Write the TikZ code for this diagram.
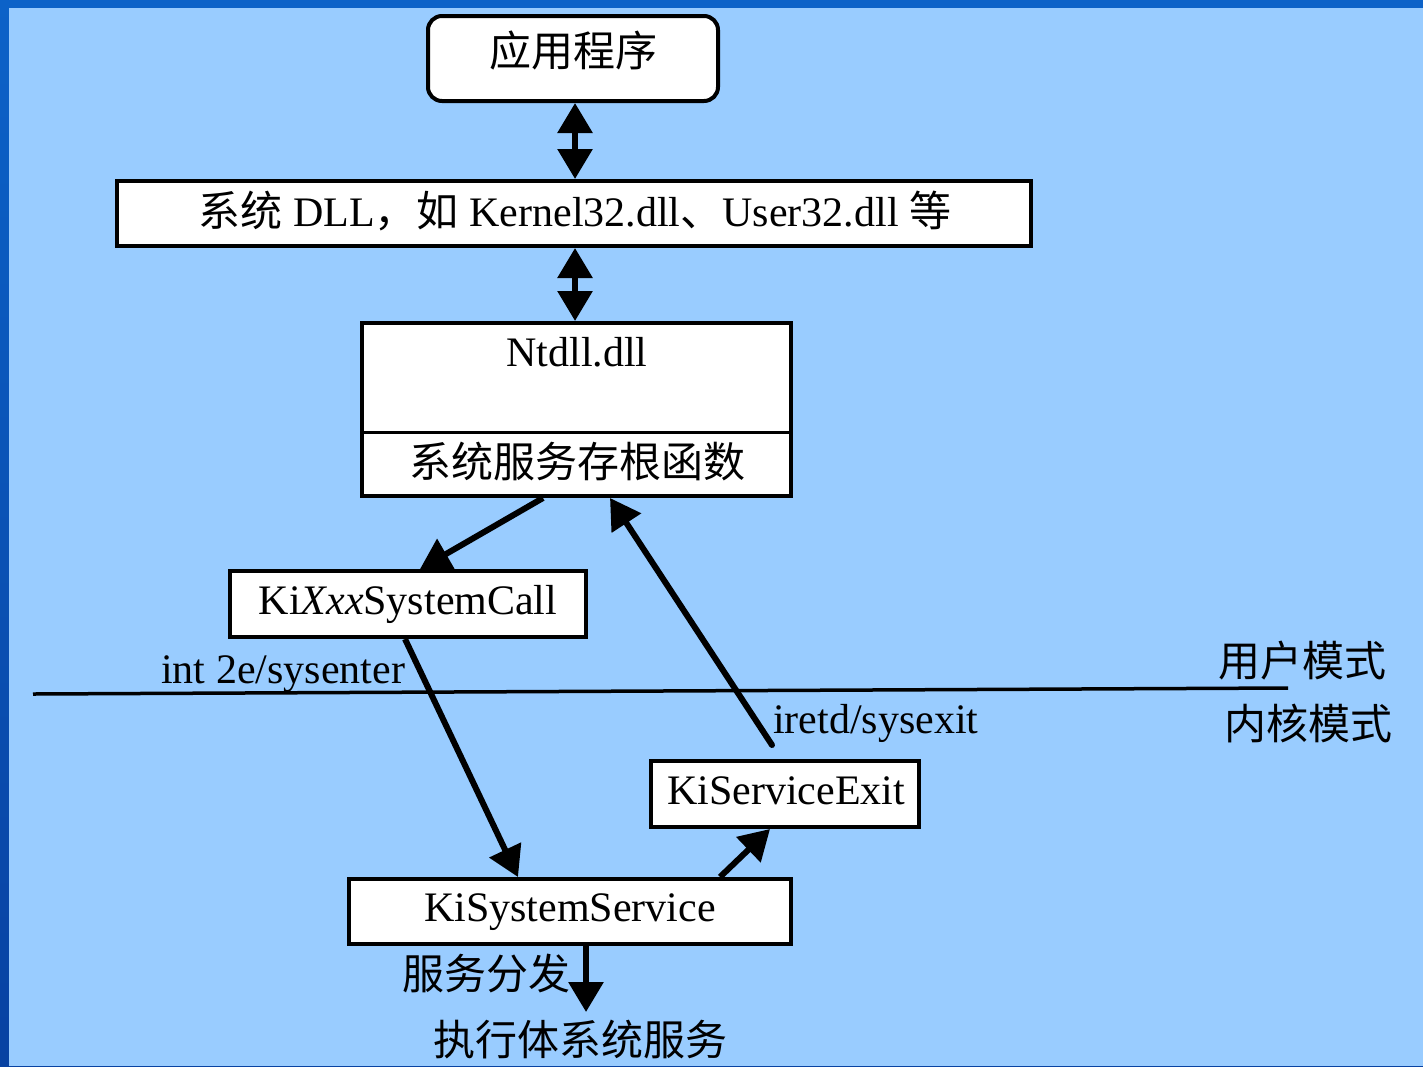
\documentclass[tikz,border=0pt]{standalone}
\usepackage{fontspec}
\setmainfont{Liberation Serif}
\newfontfamily\cjk{Noto Sans CJK SC}
\usetikzlibrary{arrows.meta}
\definecolor{bglight}{HTML}{99CCFF}
\definecolor{bgtop}{HTML}{0C62C8}
\definecolor{bgbottom}{HTML}{0842A2}
\begin{document}
\begin{tikzpicture}[x=1pt,y=-1pt,
  box/.style={draw=black, line width=4pt, fill=white, inner sep=0pt},
  txt/.style={inner sep=0pt, anchor=base, font=\fontsize{42pt}{50pt}\selectfont},
  arr/.style={line width=6pt, -{Triangle[length=30pt,width=34pt]}},
  darr/.style={line width=6pt, {Triangle[length=30pt,width=34pt]}-{Triangle[length=30pt,width=34pt]}},
]
\useasboundingbox (0,0) rectangle (1423,1066);
\shade[top color=bgtop, bottom color=bgbottom] (0,0) rectangle (1423,1066);
\fill[bglight] (9,8) rectangle (1423,1066);

% boxes
\node[box, rounded corners=14pt, minimum width=290pt, minimum height=85pt] (app) at (573,58.5) {};
\node[txt] (apptxt) at (573,66) {\cjk 应用程序};

\node[box, minimum width=914pt, minimum height=65pt] (dll) at (574,213.5) {};
\node[txt] (dlltxt) at (575,226) {{\cjk 系统} DLL{\cjk ，如} Kernel32.dll{\cjk 、}User32.dll {\cjk 等}};

\node[box, minimum width=429pt, minimum height=173pt] (ntdll) at (576.5,409.5) {};
\draw[line width=3pt] ([yshift=-22.5pt]ntdll.west) -- ([yshift=-22.5pt]ntdll.east);
\node[txt] (ntdlltxt) at (577,366) {Ntdll.dll};
\node[txt] (stubtxt) at (577,477) {\cjk 系统服务存根函数};

\node[box, minimum width=356pt, minimum height=66pt] (kixxx) at (408,604) {};
\node[txt] (kixxxtxt) at (408,614) {Ki\textit{Xxx}SystemCall};

\node[box, minimum width=268pt, minimum height=66pt] (kiexit) at (785,794) {};
\node[txt] (kiexittxt) at (786,804) {KiServiceExit};

\node[box, minimum width=442pt, minimum height=65pt] (kisys) at (570,911.5) {};
\node[txt] (kisystxt) at (570,921) {KiSystemService};

% labels
\node[txt, anchor=base west] (intlbl) at (161,683) {int 2e/sysenter};
\node[txt, anchor=base west] (iretlbl) at (773,733) {iretd/sysexit};
\node[txt, anchor=base west] (user) at (1218,676) {\cjk 用户模式};
\node[txt, anchor=base west] (kernel) at (1224,739) {\cjk 内核模式};
\node[txt, anchor=base west] (disp) at (402,989) {\cjk 服务分发};
\node[txt] (exec) at (580,1055) {\cjk 执行体系统服务};

% mode boundary
\coordinate (hl) at (33,694);
\coordinate (hr) at (1288,688);
\draw[line width=3.5pt] (hl) -- (hr);

% connectors
\draw[darr] ([xshift=2pt]app.south) -- ([xshift=2pt]app.south |- dll.north);
\draw[darr] ([xshift=1pt]dll.south) -- ([xshift=1pt]dll.south |- ntdll.north);
\draw[arr] ([xshift=-33.5pt]ntdll.south) -- ([xshift=12pt]kixxx.north);
\draw[arr] ([xshift=-3pt]kixxx.south) -- ([xshift=-52pt]kisys.north);
\draw[arr] ([xshift=150pt]kisys.north) -- ([xshift=-15pt]kiexit.south);
\draw[arr, line cap=round] ([xshift=-13pt,yshift=14pt]kiexit.north) -- ([xshift=33.5pt]ntdll.south);
\coordinate (tipd) at (586,1012);
\draw[arr] ([xshift=16pt]kisys.south) -- (tipd);
\end{tikzpicture}
\end{document}
